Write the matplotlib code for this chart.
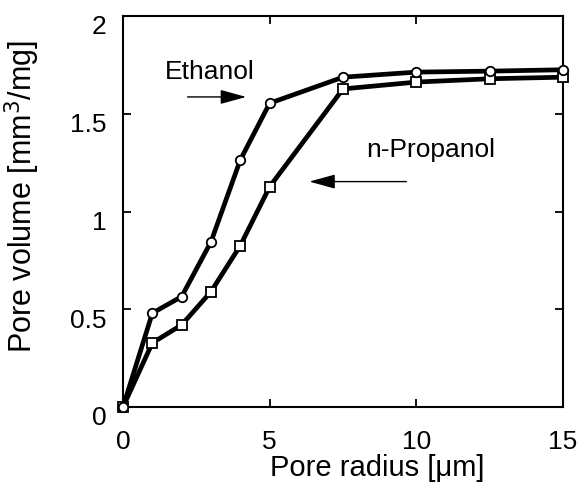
import matplotlib
matplotlib.use("Agg")
import matplotlib.pyplot as plt
import matplotlib.transforms as mtransforms

plt.rcParams['font.family'] = ['Liberation Sans', 'DejaVu Sans']

radius = [0, 1, 2, 3, 4, 5, 7.5, 10, 12.5, 15]
ethanol = [0, 0.48, 0.565, 0.845, 1.264, 1.554, 1.687, 1.713, 1.718, 1.725]
propanol = [0, 0.328, 0.42, 0.59, 0.826, 1.127, 1.627, 1.662, 1.679, 1.687]

fig = plt.figure(figsize=(5.85, 4.85), dpi=100)
ax = fig.add_axes([123 / 585, 1 - 408 / 485, 440 / 585, 391 / 485])

ax.plot(radius, propanol, color='black', lw=3.4, marker='s', ms=6.8,
        mfc='white', mec='black', mew=1.3, clip_on=False, zorder=3)
ax.plot(radius, ethanol, color='black', lw=3.4, marker='o', ms=6.8,
        mfc='white', mec='black', mew=1.3, clip_on=False, zorder=4)

ax.set_xlim(0, 15)
ax.set_ylim(0, 2)
ax.set_xticks([0, 5, 10, 15])
ax.set_yticks([0, 0.5, 1, 1.5, 2])
ax.set_xticklabels(['0', '5', '10', '15'])
ax.set_yticklabels(['0', '0.5', '1', '1.5', '2'])

for s in ax.spines.values():
    s.set_linewidth(1.5)
ax.tick_params(direction='in', length=6, width=1.3, labelsize=19,
               top=True, right=True)
ax.tick_params(axis='x', pad=16)
ax.tick_params(axis='y', pad=12)

# y tick labels sit a little below their ticks in the original
off = mtransforms.ScaledTranslation(0, -8 / 100, fig.dpi_scale_trans)
for lab in ax.get_yticklabels():
    lab.set_transform(lab.get_transform() + off)

ax.set_xlabel('Pore radius [\u03bcm]', fontsize=21)
ax.set_ylabel('Pore volume [mm$^3$/mg]', fontsize=22)
ax.xaxis.set_label_coords(0.578, -0.118)
ax.yaxis.set_label_coords(-0.185, 0.54)

ax.text(2.96, 1.72, 'Ethanol', fontsize=19, ha='center', va='center')
ax.annotate('', xy=(4.2, 1.586), xytext=(2.2, 1.586),
            arrowprops=dict(arrowstyle='-|>,head_length=0.8,head_width=0.22',
                            lw=1, color='black', mutation_scale=20,
                            shrinkA=0, shrinkB=0))

ax.text(10.49, 1.32, 'n-Propanol', fontsize=19, ha='center', va='center')
ax.annotate('', xy=(6.35, 1.153), xytext=(9.66, 1.153),
            arrowprops=dict(arrowstyle='-|>,head_length=0.8,head_width=0.22',
                            lw=1, color='black', mutation_scale=20,
                            shrinkA=0, shrinkB=0))

fig.savefig('out.png', dpi=100)
